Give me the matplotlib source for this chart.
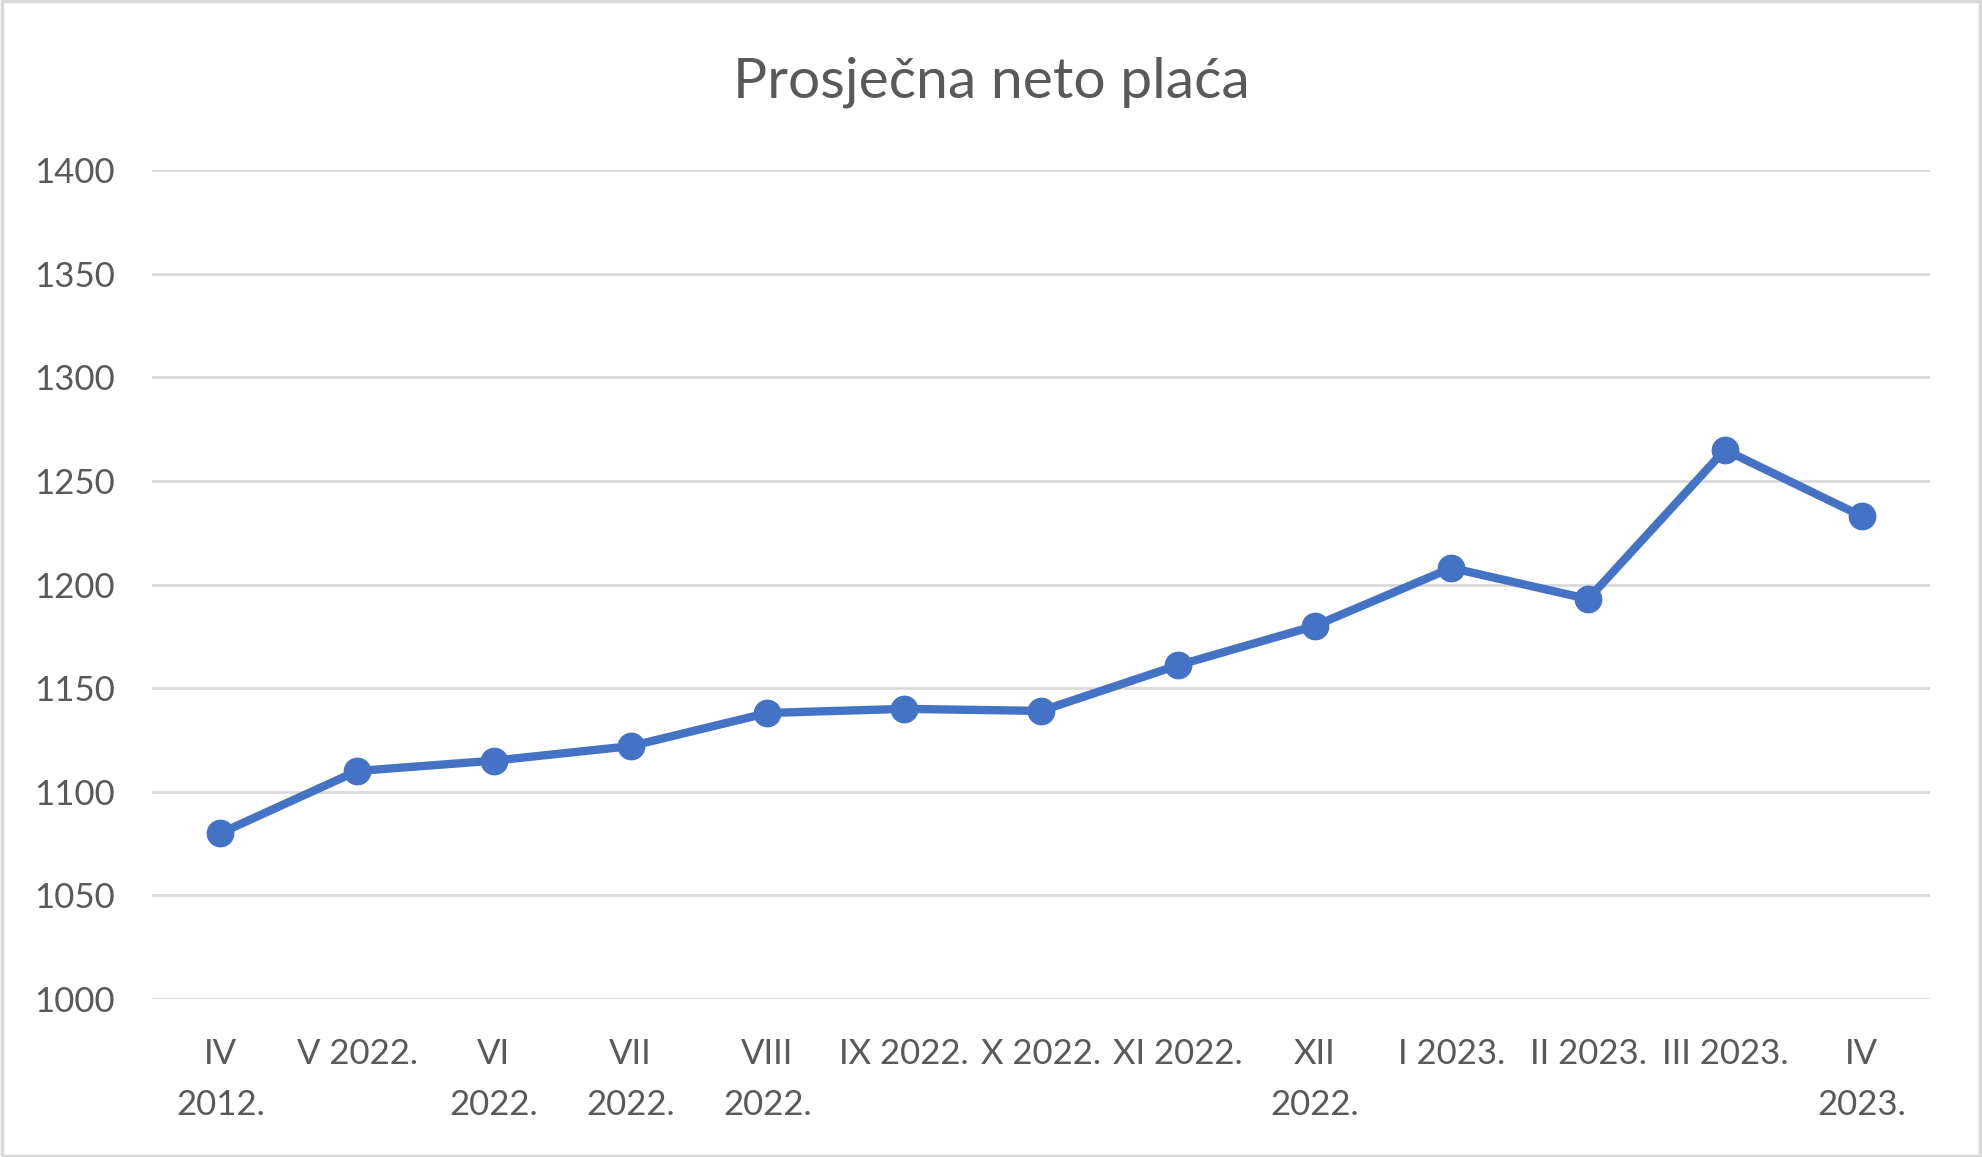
import matplotlib; matplotlib.use("Agg")
import matplotlib.pyplot as plt
from matplotlib.patches import Rectangle

# podaci
mjeseci = ["IV\n2012.", "V 2022.", "VI\n2022.", "VII\n2022.", "VIII\n2022.", "IX 2022.",
           "X 2022.", "XI 2022.", "XII\n2022.", "I 2023.", "II 2023.", "III 2023.", "IV\n2023."]
placa = [1080, 1110, 1115, 1122, 1138, 1140, 1139, 1161, 1180, 1208, 1193, 1265, 1233]
y_ticks = [1000, 1050, 1100, 1150, 1200, 1250, 1300, 1350, 1400]

TXT = "#595959"; GRID = "#d9d9d9"; BLUE = "#4472C4"
plt.rcParams["font.family"] = ["Lato", "DejaVu Sans"]

fig = plt.figure(figsize=(19.82, 11.57), dpi=100)
ax = fig.add_axes([0.0767, 0.1366, 0.8971, 0.7164])

x = list(range(len(placa)))
ax.plot(x, placa, color=BLUE, lw=6, marker="o", ms=19, zorder=3)

ax.set_xlim(-0.5, len(placa) - 0.5)
ax.set_ylim(1000, 1400)
ax.set_yticks(y_ticks)
ax.set_xticks(x)
ax.set_xticklabels(mjeseci, linespacing=1.75)
ax.grid(axis="y", color=GRID, lw=2)
ax.set_axisbelow(True)
for s in ax.spines.values():
    s.set_visible(False)
ax.tick_params(length=0, labelsize=25, labelcolor=TXT)
ax.tick_params(axis="y", pad=27)
ax.tick_params(axis="x", pad=28)

fig.text(0.5, 0.9158, "Prosječna neto plaća", ha="center", va="baseline",
         fontsize=41, color=TXT)
fig.patches.append(Rectangle((0.001, 0.001), 0.998, 0.998, transform=fig.transFigure,
                             fill=False, edgecolor=GRID, lw=2.5))

fig.savefig("out.png", dpi=100)
